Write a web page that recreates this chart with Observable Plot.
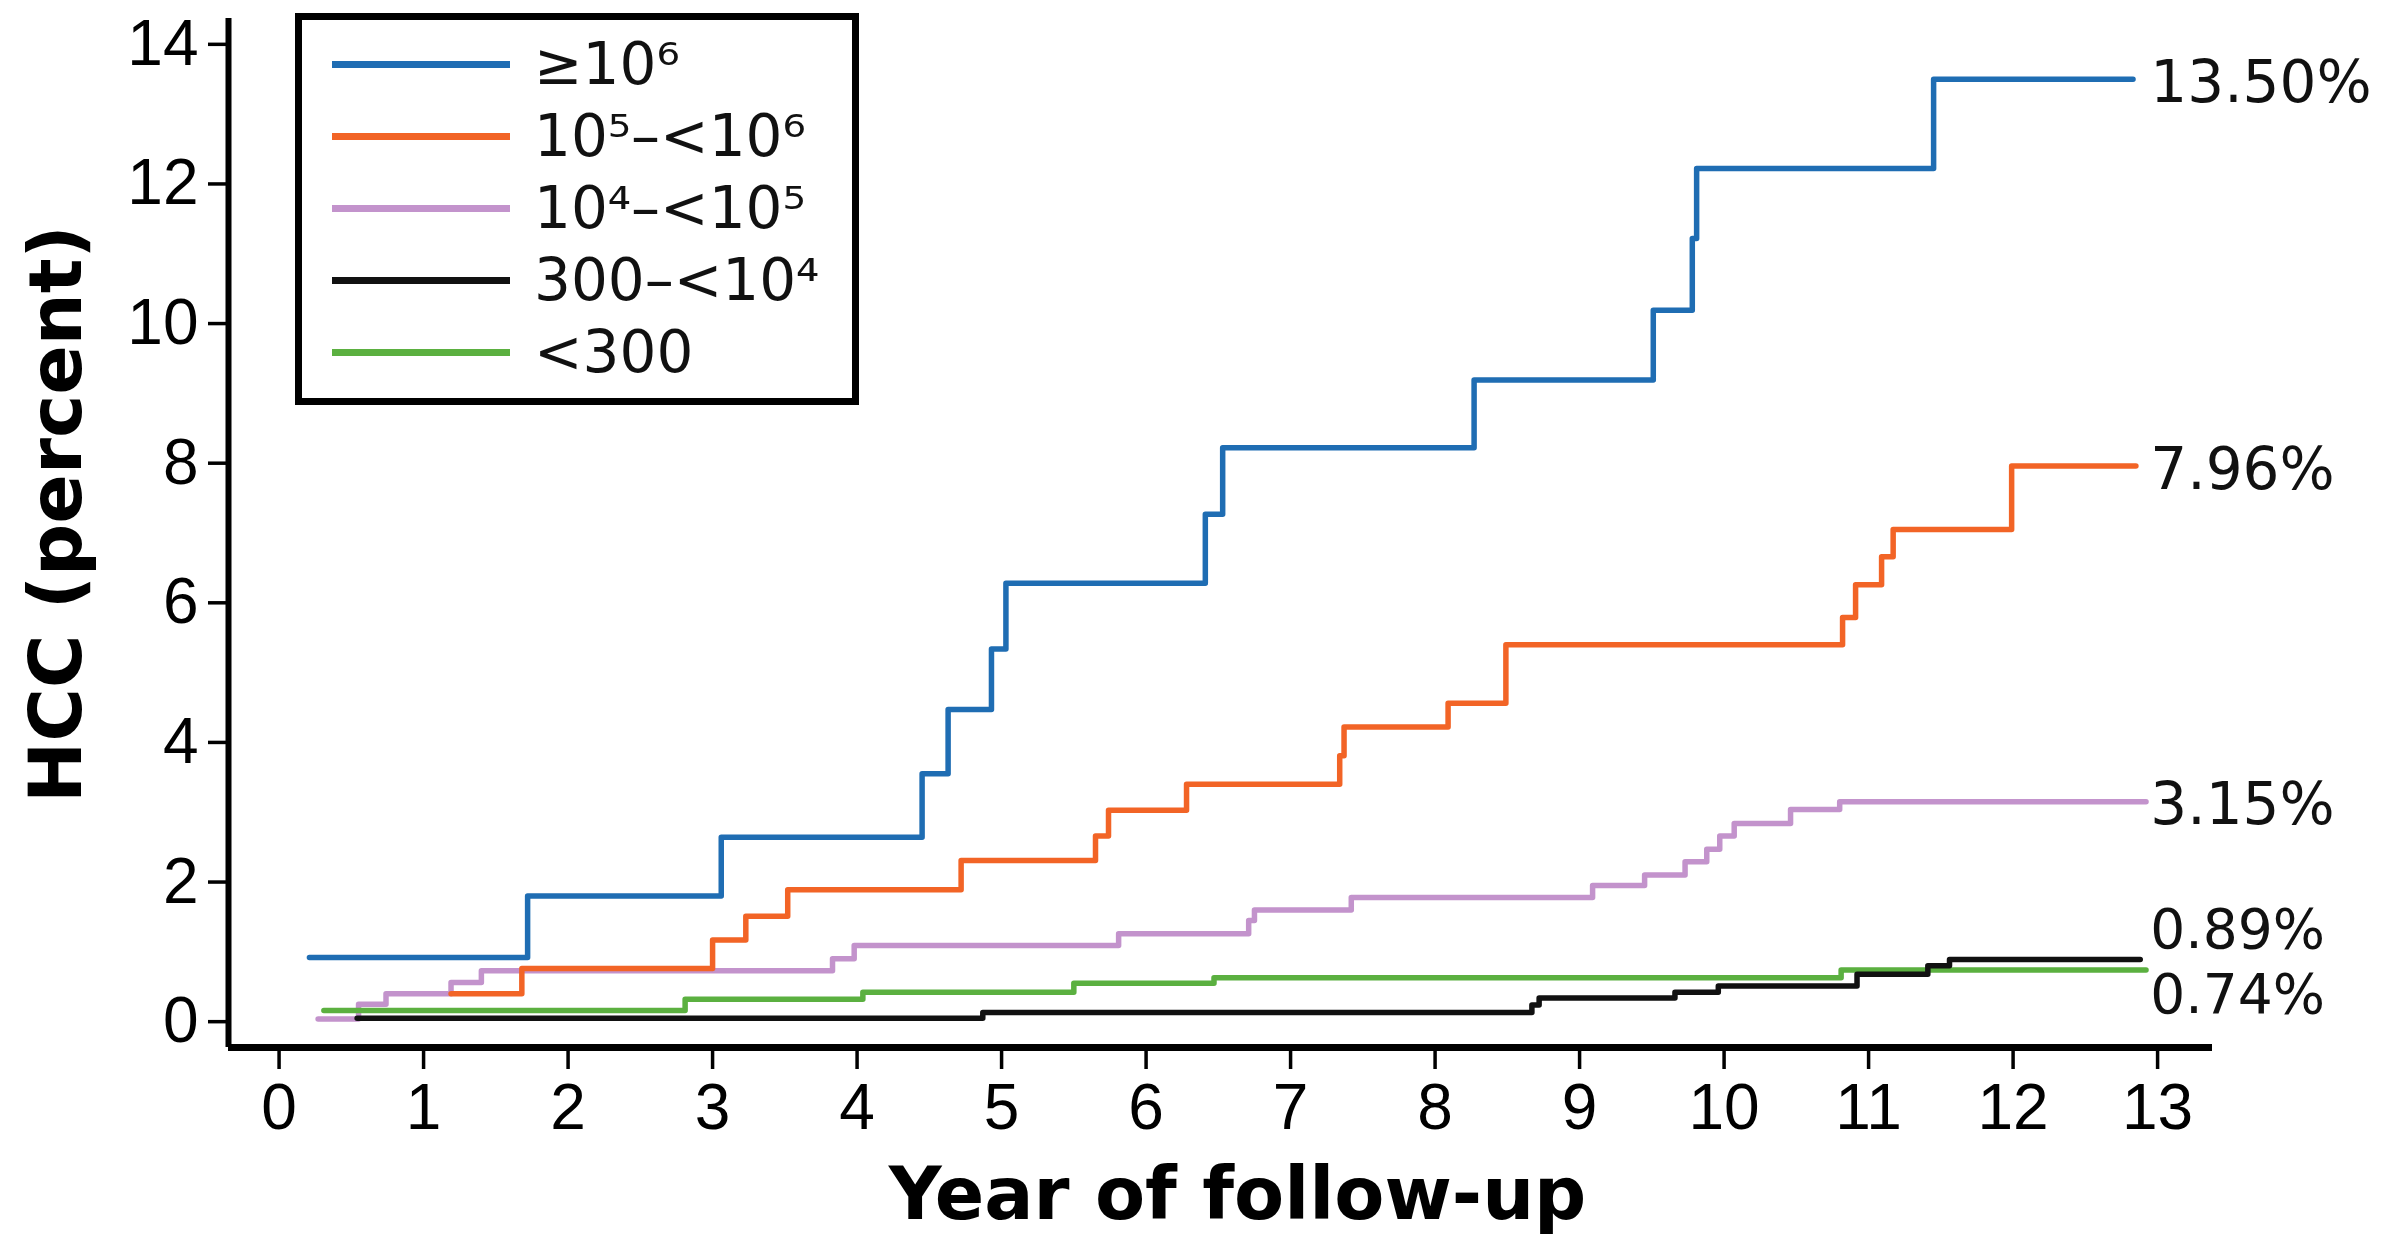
<!DOCTYPE html>
<html><head><meta charset="utf-8">
<script src="https://cdn.jsdelivr.net/npm/d3@7"></script>
<script src="https://cdn.jsdelivr.net/npm/@observablehq/plot@0.6"></script>
<style>
html,body{margin:0;padding:0;background:#fff;}
#wrap{position:relative;width:2387px;height:1242px;overflow:hidden;}
#legend{position:absolute;left:295px;top:13px;width:550px;height:370px;border:7px solid #000;background:#fff;font-family:"DejaVu Sans",sans-serif;font-size:58px;color:#111;padding-top:8px;box-sizing:content-box;}
#legend .row{height:72px;display:flex;align-items:center;}
#legend .sw{margin-left:30px;width:178px;height:7px;margin-right:24px;}
</style></head>
<body><div id="wrap"><div id="legend"></div></div>
<script>
// ---- data ----
const groups = ["≥10⁶", "10⁵–<10⁶", "10⁴–<10⁵", "300–<10⁴", "<300"];
const colors = ["#1f6db3", "#f26426", "#c393cc", "#111111", "#5bb040"];
const endLabels = ["13.50%", "7.96%", "3.15%", "0.89%", "0.74%"];
const xTicks = [0,1,2,3,4,5,6,7,8,9,10,11,12,13];
const yTicks = [0,2,4,6,8,10,12,14];

const blueT = [0.21,1.72,3.06,4.45,4.63,4.93,5.03,6.41,6.53,8.27,9.51,9.78,9.81,11.45,12.83];
const blueV = [0.92,1.80,2.64,3.55,4.47,5.34,6.28,7.27,8.22,9.19,10.19,11.22,12.22,13.50,13.50];

const orangeT = [1.19,1.68,3.00,3.23,3.52,4.72,5.65,5.74,6.28,7.34,7.37,8.09,8.49,10.82,10.91,11.09,11.17,11.99,12.85];
const orangeV = [0.40,0.76,1.17,1.51,1.89,2.31,2.66,3.03,3.40,3.81,4.22,4.56,5.40,5.79,6.26,6.66,7.05,7.96,7.96];

const purpleT = [0.27,0.55,0.74,1.19,1.40,3.83,3.98,5.81,6.71,6.75,7.42,9.09,9.45,9.73,9.88,9.97,10.07,10.46,10.80,12.92];
const purpleV = [0.04,0.25,0.40,0.56,0.73,0.90,1.09,1.26,1.45,1.60,1.78,1.95,2.10,2.29,2.47,2.66,2.84,3.04,3.15,3.15];

const blackT = [0.54,4.87,8.67,8.72,9.66,9.96,10.92,11.41,11.56,12.88];
const blackV = [0.05,0.13,0.24,0.34,0.42,0.51,0.68,0.80,0.89,0.89];

const greenT = [0.31,2.81,4.04,5.50,6.47,10.81,12.92];
const greenV = [0.16,0.32,0.42,0.55,0.63,0.74,0.74];

// ---- build ----
const seriesT = [blueT, orangeT, purpleT, blackT, greenT];
const seriesV = [blueV, orangeV, purpleV, blackV, greenV];
const series = groups.map((g, i) => ({
  group: g, color: colors[i], label: endLabels[i],
  rows: seriesT[i].map((t, j) => ({group: g, t, v: seriesV[i][j]}))
}));
const drawOrder = [2, 1, 0, 4, 3];
const ends = series.map(s => ({group: s.group, label: s.label, v: s.rows[s.rows.length - 1].v}));

const xDomain = [-0.35, 13.38];
const yDomain = [-0.37, 14.37];
const labelX = 12.95;
const endFont = {fontFamily: "DejaVu Sans", fontSize: 58, fill: "#111", textAnchor: "start", lineAnchor: "middle"};
const endFontSmall = {...endFont, fontSize: 55};

const chart = Plot.plot({
  width: 2387, height: 1242,
  marginLeft: 228, marginRight: 175, marginTop: 18, marginBottom: 195,
  x: {domain: xDomain},
  y: {domain: yDomain},
  color: {domain: groups, range: colors},
  style: {fontFamily: "Liberation Sans, Arial, sans-serif", fontSize: "64px", color: "#000", background: "#fff"},
  marks: [
    Plot.axisX({ticks: xTicks, tickSize: 22, tickPadding: 14, strokeWidth: 3.5, fontSize: 64, label: null, tickFormat: d => String(d)}),
    Plot.axisY({ticks: yTicks, tickSize: 20, tickPadding: 10, strokeWidth: 3.5, fontSize: 64, label: null, tickFormat: d => String(d)}),
    ...drawOrder.map(i => Plot.line(series[i].rows, {x: "t", y: "v", stroke: "group", curve: "step-after", strokeWidth: 5.5})),
    Plot.ruleX([xDomain[0]], {strokeWidth: 6, stroke: "#000"}),
    Plot.ruleY([yDomain[0]], {strokeWidth: 7, stroke: "#000"}),
    Plot.text(ends.slice(0, 3), {x: () => labelX, y: "v", text: "label", dy: 4, ...endFont}),
    Plot.text(ends.slice(3, 4), {x: () => labelX, y: "v", text: "label", dy: -29, ...endFontSmall}),
    Plot.text(ends.slice(4, 5), {x: () => labelX, y: "v", text: "label", dy: 25, ...endFontSmall}),
    Plot.text(["Year of follow-up"], {frameAnchor: "bottom", text: d => d, textAnchor: "middle", lineAnchor: "bottom", dy: 171, dx: 17, fontFamily: "DejaVu Sans", fontWeight: "bold", fontSize: 73, fill: "#000"}),
    Plot.text(["HCC (percent)"], {frameAnchor: "left", text: d => d, rotate: -90, textAnchor: "middle", lineAnchor: "middle", dx: -171, dy: -19, fontFamily: "DejaVu Sans", fontWeight: "bold", fontSize: 73, fill: "#000"})
  ]
});
document.getElementById("wrap").prepend(chart);

// legend
const leg = document.getElementById("legend");
groups.forEach((g, i) => {
  const row = document.createElement("div");
  row.className = "row";
  const sw = document.createElement("div");
  sw.className = "sw";
  sw.style.background = colors[i];
  const lab = document.createElement("span");
  lab.textContent = g;
  row.appendChild(sw); row.appendChild(lab);
  leg.appendChild(row);
});
</script>
</body></html>
